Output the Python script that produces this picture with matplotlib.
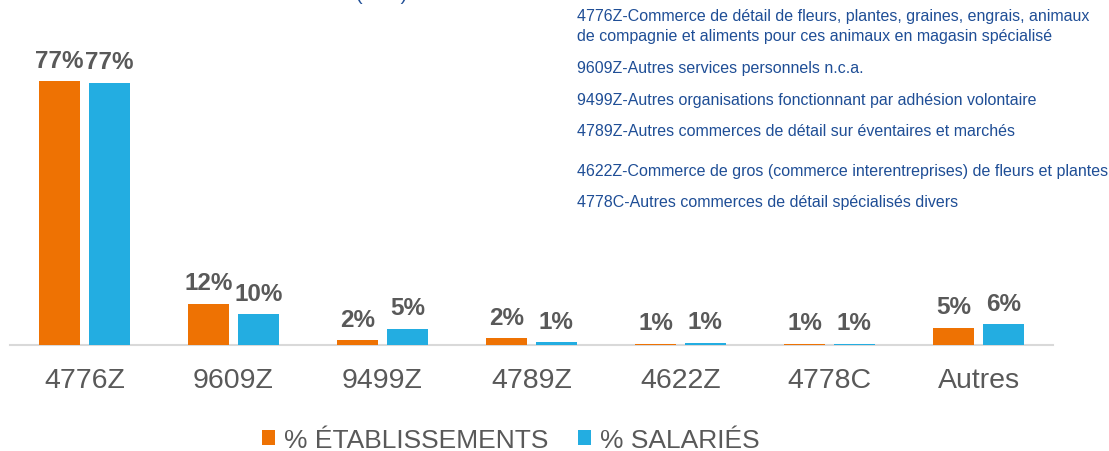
import matplotlib
matplotlib.use("Agg")
import matplotlib.pyplot as plt
from matplotlib.patches import Patch

plt.rcParams['font.family'] = ['Liberation Sans', 'DejaVu Sans']

categories = ["4776Z", "9609Z", "9499Z", "4789Z", "4622Z", "4778C", "Autres"]
etab_values = [77.0, 12.0, 1.4, 2.0, 0.3, 0.3, 5.0]
sal_values = [76.5, 9.0, 4.8, 0.8, 0.6, 0.3, 6.0]
etab_labels = ["77%", "12%", "2%", "2%", "1%", "1%", "5%"]
sal_labels = ["77%", "10%", "5%", "1%", "1%", "1%", "6%"]
series_names = ["% ÉTABLISSEMENTS", "% SALARIÉS"]
note_lines = [
    "4776Z-Commerce de détail de fleurs, plantes, graines, engrais, animaux",
    "de compagnie et aliments pour ces animaux en magasin spécialisé",
    "9609Z-Autres services personnels n.c.a.",
    "9499Z-Autres organisations fonctionnant par adhésion volontaire",
    "4789Z-Autres commerces de détail sur éventaires et marchés",
    "4622Z-Commerce de gros (commerce interentreprises) de fleurs et plantes",
    "4778C-Autres commerces de détail spécialisés divers",
]
title_text = "(NAF)"

ORANGE = "#EE7203"
BLUE = "#23ADE1"
GREY = "#595959"
NAVY = "#1F4E96"

W, H = 1109, 452
fig = plt.figure(figsize=(W / 100, H / 100), dpi=100)
ax_left, ax_right = 10 / W, 1053 / W
ax_bottom = (H - 346) / H
ymax = 100
px_per_unit = 3.425
ax_top_px = 346 - ymax * px_per_unit
ax = fig.add_axes([ax_left, ax_bottom, ax_right - ax_left, (346 - ax_top_px) / H])

x = list(range(len(categories)))
bw = 0.28
off = 0.167
b1 = ax.bar([i - off for i in x], etab_values, width=bw, color=ORANGE, zorder=3)
b2 = ax.bar([i + off for i in x], sal_values, width=bw, color=BLUE, zorder=3)

for bars, labs in ((b1, etab_labels), (b2, sal_labels)):
    for rect, lab in zip(bars, labs):
        ax.annotate(lab, (rect.get_x() + rect.get_width() / 2, rect.get_height()),
                    xytext=(0, 10.5), textcoords="offset points",
                    ha="center", va="baseline", fontsize=17.5, fontweight="bold",
                    color=GREY, zorder=4)

ax.set_xlim(-0.5, len(categories) - 0.5)
ax.set_ylim(0, ymax)
ax.set_yticks([])
for s in ("top", "right", "left"):
    ax.spines[s].set_visible(False)
ax.spines["bottom"].set_color("#D9D9D9")
ax.spines["bottom"].set_linewidth(1.5)
ax.set_xticks(x)
ax.set_xticklabels(categories, fontsize=20.5, color=GREY)
ax.tick_params(axis="x", length=0, pad=16)
ax.patch.set_alpha(0)

note_y = [16, 36, 68, 100, 132, 172, 203]
for txt, yp in zip(note_lines, note_y):
    fig.text(577 / W, 1 - yp / H, txt, fontsize=11.5, color=NAVY,
             ha="left", va="center")

fig.text(382 / W, 1 + 0.5 / H, title_text, fontsize=14, color=NAVY,
         ha="center", va="baseline")

handles = [Patch(facecolor=ORANGE, edgecolor="none"), Patch(facecolor=BLUE, edgecolor="none")]
fig.legend(handles, series_names, loc="center", bbox_to_anchor=(511 / W, 1 - 441 / H),
           ncol=2, frameon=False, fontsize=19, labelcolor=GREY,
           handlelength=0.5, handleheight=0.5, handletextpad=0.35, columnspacing=1.1)

fig.savefig("out.png", dpi=100)
